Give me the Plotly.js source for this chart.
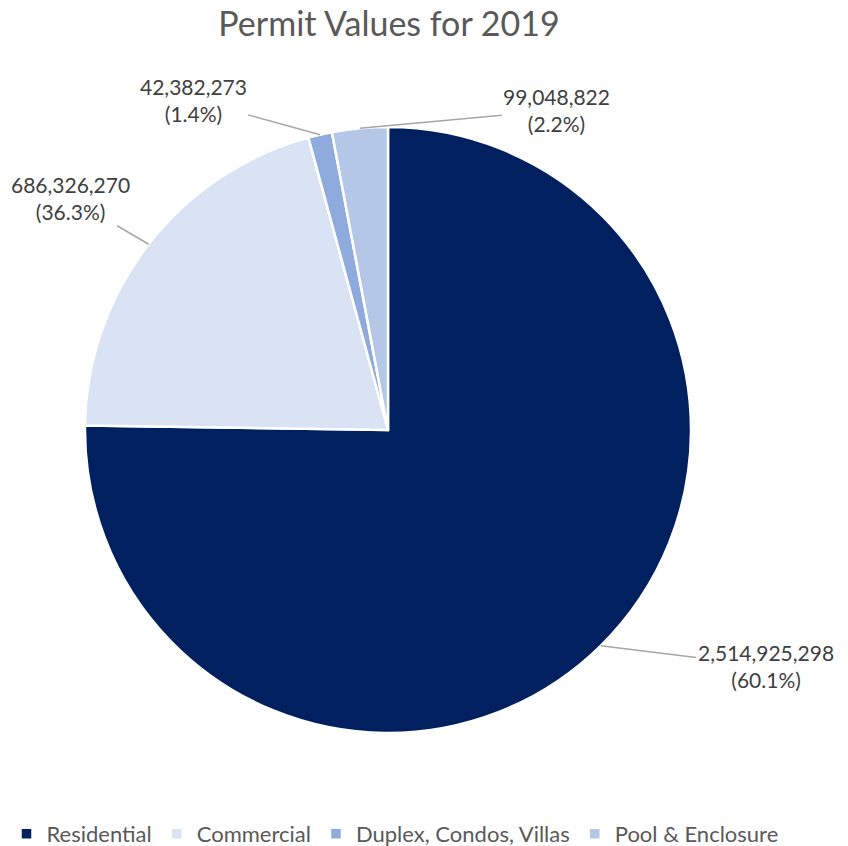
<!DOCTYPE html>
<html>
<head>
<meta charset="utf-8">
<script src="https://cdn.plot.ly/plotly-3.0.1.min.js"></script>
<style>html,body{margin:0;padding:0;background:#fff;} #chart{width:848px;height:846px;}</style>
</head>
<body>
<div id="chart"></div>
<script>
const categories = ['Residential', 'Commercial', 'Duplex, Condos, Villas', 'Pool & Enclosure'];
const values = [2514925298, 686326270, 42382273, 99048822];
const shownPercents = ['60.1%', '36.3%', '1.4%', '2.2%'];
const colors = ['#002060', '#DAE3F3', '#8FAADC', '#B4C7E7'];

const W = 848, H = 846;
const cx = 388, cy = 430, R = 303;
// label text offsets (px) from the slice edge point
const labelOffsets = [[165, 20], [-78, -46], [-127, -35], [197, -18]];

const total = values.reduce((a, b) => a + b, 0);
let cum = 0;
const annotations = values.map((v, i) => {
  const mid = (cum + v / 2) / total * 2 * Math.PI;
  cum += v;
  const px = cx + R * Math.sin(mid);
  const py = cy - R * Math.cos(mid);
  return {
    x: px / W, y: 1 - py / H, xref: 'paper', yref: 'paper',
    ax: labelOffsets[i][0], ay: labelOffsets[i][1],
    text: v.toLocaleString('en-US') + '<br>(' + shownPercents[i] + ')',
    showarrow: true, arrowhead: 0, arrowwidth: 1.5, arrowcolor: '#A6A6A6', standoff: 0,
    font: {family: 'Lato, sans-serif', size: 21, color: '#404040'},
    align: 'center'
  };
});

const trace = {
  type: 'pie',
  labels: categories,
  values: values,
  sort: false,
  direction: 'clockwise',
  rotation: 0,
  textposition: 'none',
  hoverinfo: 'none',
  marker: {colors: colors, line: {color: '#FFFFFF', width: 2.5}},
  domain: {x: [(cx - R) / W, (cx + R) / W], y: [1 - (cy + R) / H, 1 - (cy - R) / H]}
};

const layout = {
  width: W, height: H,
  margin: {l: 0, r: 0, t: 0, b: 0, autoexpand: false},
  paper_bgcolor: '#FFFFFF',
  title: {text: 'Permit Values for 2019', x: 389 / W, xanchor: 'center', y: 1 - 24 / H, yanchor: 'middle',
          font: {family: 'Lato, sans-serif', size: 34, color: '#595959'}},
  showlegend: true,
  legend: {orientation: 'h', x: 395 / W, xanchor: 'center', y: 1 - 834 / H, yanchor: 'middle',
           font: {family: 'Lato, sans-serif', size: 22, color: '#595959'}, traceorder: 'normal'},
  annotations: annotations
};

Plotly.newPlot('chart', [trace], layout, {displayModeBar: false, staticPlot: true});
</script>
</body>
</html>
